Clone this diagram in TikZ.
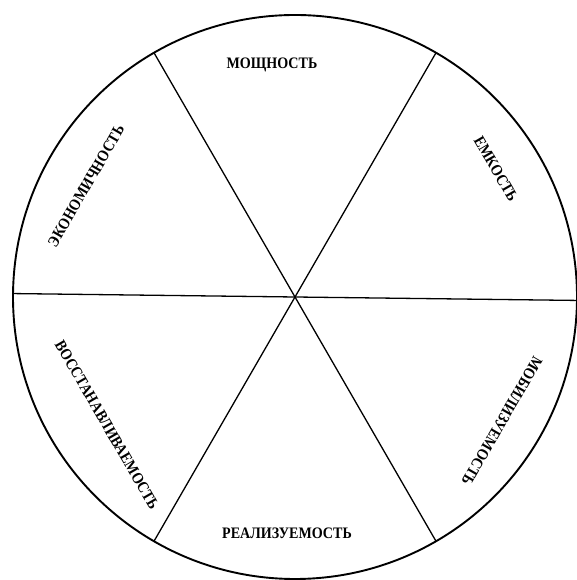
\documentclass[tikz,border=0pt]{standalone}
\usepackage{fontspec}
\setmainfont{Liberation Serif}
\usetikzlibrary{calc}
\newcommand\narrowlbl[1]{\scalebox{0.88}[1]{#1}}
\begin{document}
\begin{tikzpicture}[x=1pt,y=1pt,
  rim/.style={line width=1.9pt},
  spoke/.style={line width=1.3pt},
  lab/.style={font=\fontsize{16}{18}\selectfont\bfseries, inner sep=0pt}]
\useasboundingbox (0,0) rectangle (576,580);
\coordinate (o) at (295,283);
\draw[rim] (o) circle (282);
\foreach \a in {60,120,240,300} {\coordinate (e\a) at ($(o)+(\a:282)$);}
\coordinate (e0) at ($(o)+(-0.7:282)$);
\coordinate (e180) at ($(o)+(179.3:282)$);
\draw[spoke] (e0) -- (e180);
\draw[spoke] (e60) -- (e240);
\draw[spoke] (e120) -- (e300);
\node[lab] (mosch) at (272,515) {\narrowlbl{МОЩНОСТЬ}};
\node[lab, rotate=-60] (emk) at (496,411) {\narrowlbl{ЕМКОСТЬ}};
\node[lab, rotate=60] (econ) at (86,394) {\narrowlbl{ЭКОНОМИЧНОСТЬ}};
\node[lab, rotate=-60] (vosst) at (107,155) {\narrowlbl{ВОССТАНАВЛИВАЕМОСТЬ}};
\node[lab, rotate=240] (mobil) at (502,159) {\narrowlbl{МОБИЛИЗУЕМОСТЬ}};
\node[lab] (real) at (287,47) {\narrowlbl{РЕАЛИЗУЕМОСТЬ}};
\end{tikzpicture}
\end{document}
